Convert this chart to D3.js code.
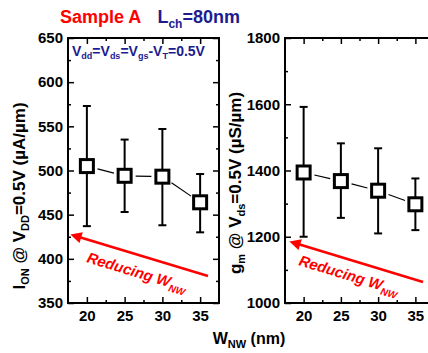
<!DOCTYPE html>
<meta charset="utf-8">
<style>
body { margin: 0; background: #fff; }
text { font-family: "Liberation Sans", Arial, sans-serif; font-weight: bold; }
.tick text { font-size: 15px; fill: #000; }
</style>
<svg width="428" height="353"></svg>
<script src="https://cdn.jsdelivr.net/npm/d3@7"></script>
<script>

let wnw = [20, 25, 30, 35];
let ionMean = [505, 494, 493, 464];
let ionHi = [573, 535, 547, 496];
let ionLo = [437, 453, 438, 430];
let gmMean = [1394, 1368, 1339, 1298];
let gmHi = [1592, 1482, 1467, 1376];
let gmLo = [1200, 1257, 1210, 1220];
let ionTicks = [350, 400, 450, 500, 550, 600, 650];
let gmTicks = [1000, 1200, 1400, 1600, 1800];
let xTicks = [20, 25, 30, 35];

let red = '#ff0000';
let navy = '#1c1c8f';

let svg = d3.select('svg');

let panel = (left, right, yDomain, yTicks, yMinor, mean, hi, lo) => {
  let x = d3.scaleLinear().domain([17.5, 37.5]).range([left, right]);
  let y = d3.scaleLinear().domain(yDomain).range([303, 38]);
  let g = svg.append('g');

  // ticks on all four sides, pointing inward
  let xMinor = [22.5, 27.5, 32.5];
  let makers = [d3.axisBottom, d3.axisTop, d3.axisLeft, d3.axisRight];
  let trs = ['translate(0,303)', 'translate(0,38)',
    'translate(' + left + ',0)', 'translate(' + right + ',0)'];
  makers.forEach((mk, i) => {
    let scale = i < 2 ? x : y;
    let minorAx = mk(scale).tickValues(i < 2 ? xMinor : yMinor).tickFormat('').tickSize(-3);
    g.append('g').attr('transform', trs[i]).call(minorAx)
      .call(s => s.select('.domain').remove())
      .selectAll('line').attr('stroke-width', 1.5);
    let ax = mk(scale).tickValues(i < 2 ? xTicks : yTicks).tickSize(-6)
      .tickPadding(i === 0 ? 7 : 5)
      .tickFormat(i === 0 || i === 2 ? d3.format('d') : '');
    let a = g.append('g').attr('transform', trs[i]).call(ax);
    a.select('.domain').remove();
    a.selectAll('line').attr('stroke-width', 1.5);
  });

  g.append('rect')
    .attr('x', left).attr('y', 38)
    .attr('width', right - left).attr('height', 265)
    .attr('fill', 'none').attr('stroke', '#000').attr('stroke-width', 2);

  let pts = wnw.map((w, i) => ({w: w, m: mean[i], hi: hi[i], lo: lo[i]}));

  // connecting segments, stopped short of the markers
  g.selectAll('.seg').data(d3.pairs(pts)).enter().append('line').attr('class', 'seg')
    .each(function([a, b]) {
      let x1 = x(a.w), y1 = y(a.m), x2 = x(b.w), y2 = y(b.m);
      let len = Math.hypot(x2 - x1, y2 - y1), ux = (x2 - x1) / len, uy = (y2 - y1) / len;
      d3.select(this)
        .attr('x1', x1 + ux * 11).attr('y1', y1 + uy * 11)
        .attr('x2', x2 - ux * 11).attr('y2', y2 - uy * 11);
    })
    .attr('stroke', '#000').attr('stroke-width', 1.2);

  // error bars
  let eb = g.selectAll('.eb').data(pts).enter().append('g').attr('class', 'eb')
    .attr('stroke', '#000').attr('stroke-width', 2);
  eb.append('line')
    .attr('x1', d => x(d.w)).attr('x2', d => x(d.w))
    .attr('y1', d => y(d.hi)).attr('y2', d => y(d.lo));
  eb.append('line')
    .attr('x1', d => x(d.w) - 4).attr('x2', d => x(d.w) + 4)
    .attr('y1', d => y(d.hi)).attr('y2', d => y(d.hi));
  eb.append('line')
    .attr('x1', d => x(d.w) - 4).attr('x2', d => x(d.w) + 4)
    .attr('y1', d => y(d.lo)).attr('y2', d => y(d.lo));

  // markers
  g.selectAll('.mk').data(pts).enter().append('rect').attr('class', 'mk')
    .attr('x', d => x(d.w) - 6.5).attr('y', d => y(d.m) - 6.5)
    .attr('width', 13).attr('height', 13)
    .attr('fill', '#fff').attr('stroke', '#000').attr('stroke-width', 3);
};

svg.append('defs').append('marker')
  .attr('id', 'ah').attr('viewBox', '0 0 10 10')
  .attr('refX', 2).attr('refY', 5)
  .attr('markerWidth', 5).attr('markerHeight', 4.5)
  .attr('orient', 'auto-start-reverse')
  .append('path').attr('d', 'M0,0L10,5L0,10z').attr('fill', red);

panel(68, 219, [350, 650], ionTicks, [375, 425, 475, 525, 575, 625], ionMean, ionHi, ionLo);
panel(285, 434, [1000, 1800], gmTicks, [1100, 1300, 1500, 1700], gmMean, gmHi, gmLo);

// reducing arrows
let arrow = (x1, y1, x2, y2, tx, ty) => {
  svg.append('line')
    .attr('x1', x1).attr('y1', y1).attr('x2', x2 + 6).attr('y2', y2 + 2)
    .attr('stroke', red).attr('stroke-width', 2.5)
    .attr('marker-end', 'url(#ah)');
  let ang = Math.atan2(y1 - y2, x1 - x2) * 180 / Math.PI;
  let t = svg.append('text')
    .attr('transform', 'translate(' + tx + ',' + ty + ') rotate(' + ang + ')')
    .attr('fill', red).attr('font-size', 15).attr('font-style', 'italic');
  t.append('tspan').text('Reducing W');
  t.append('tspan').attr('font-size', 10).attr('dy', 4).text('NW');
};
arrow(208, 276, 73, 235, 86, 262);
arrow(423, 282, 292, 242, 298, 265);

// title
let title = svg.append('text').attr('x', 60).attr('y', 23).attr('font-size', 18);
title.append('tspan').attr('fill', red).text('Sample A');
title.append('tspan').attr('fill', navy).attr('dx', 16).text('L');
title.append('tspan').attr('fill', navy).attr('font-size', 12).attr('dy', 5).text('ch');
title.append('tspan').attr('fill', navy).attr('dy', -5).text('=80nm');

// condition annotation
let cond = svg.append('text').attr('x', 72).attr('y', 56).attr('font-size', 14).attr('fill', navy);
[['V', 'dd', '='], ['V', 'ds', '='], ['V', 'gs', '-'], ['V', 'T', '=0.5V']].forEach(p => {
  cond.append('tspan').text(p[0]);
  cond.append('tspan').attr('font-size', 9).attr('dy', 3).text(p[1]);
  cond.append('tspan').attr('dy', -3).text(p[2]);
});

// axis titles with subscripts
let sub = (t, parts) => {
  parts.forEach(p => {
    if (p[1]) t.append('tspan').attr('font-size', 11).attr('dy', 4).text(p[0]);
    else t.append('tspan').attr('dy', p[2] || 0).text(p[0]);
  });
};
let yl = svg.append('text').attr('transform', 'translate(25,196) rotate(-90)')
  .attr('text-anchor', 'middle').attr('font-size', 17);
sub(yl, [['I'], ['ON', 1], [' @ V', 0, -4], ['DD', 1], ['=0.5V (\u00b5A/\u00b5m)', 0, -4]]);

let yr = svg.append('text').attr('transform', 'translate(241,183) rotate(-90)')
  .attr('text-anchor', 'middle').attr('font-size', 17);
sub(yr, [['g'], ['m', 1], [' @ V', 0, -4], ['ds', 1], ['=0.5V (\u00b5S/\u00b5m)', 0, -4]]);

let xl = svg.append('text').attr('x', 249).attr('y', 344)
  .attr('text-anchor', 'middle').attr('font-size', 16);
sub(xl, [['W'], ['NW', 1], [' (nm)', 0, -4]]);

</script>
